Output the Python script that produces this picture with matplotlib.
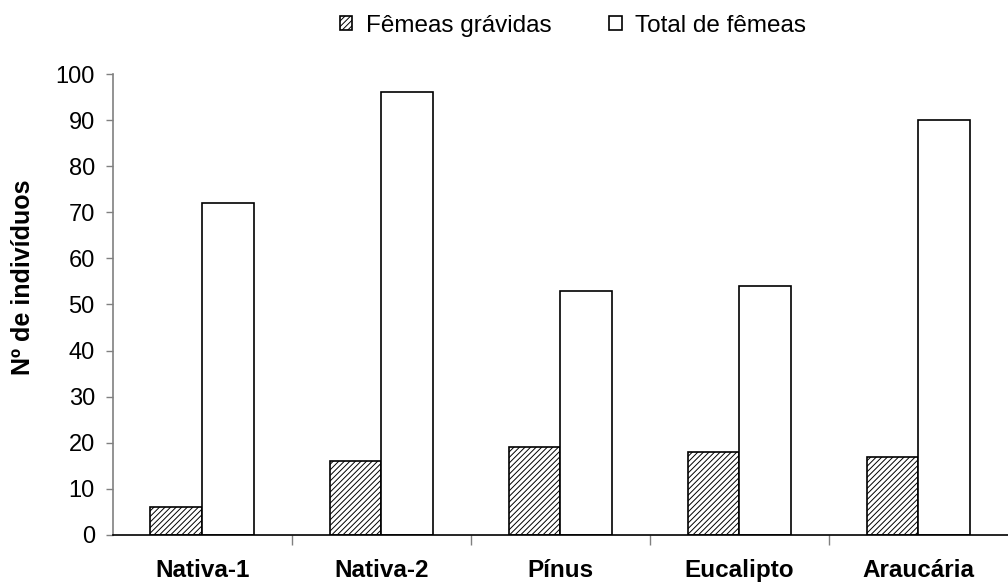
import numpy as np
import matplotlib.pyplot as plt

plt.rcParams['font.family'] = ['Liberation Sans', 'DejaVu Sans']
plt.rcParams['hatch.linewidth'] = 0.7

# Fêmeas grávidas e total de fêmeas por área
areas = ['Nativa-1', 'Nativa-2', 'Pínus', 'Eucalipto', 'Araucária']
gravidas = [6, 16, 19, 18, 17]
total = [72, 96, 53, 54, 90]

fig = plt.figure(figsize=(10.08, 5.85), dpi=100)
ax = fig.add_axes([0.112, 0.0855, 0.888, 0.788])

x = np.arange(len(areas))
w = 0.29
ax.bar(x - w / 2, gravidas, w, facecolor='white', edgecolor='black', hatch='//////',
       linewidth=1.2, label='Fêmeas grávidas')
ax.bar(x + w / 2, total, w, facecolor='white', edgecolor='black',
       linewidth=1.2, label='Total de fêmeas')

ax.set_xlim(-0.5, len(areas) - 0.5)
ax.set_ylim(0, 100)
ax.set_yticks(np.arange(0, 101, 10))
ax.tick_params(axis='y', labelsize=17, length=5, width=1, color='#808080', pad=8)

ax.set_xticks(x)
ax.set_xticklabels(areas, fontsize=17.5, fontweight='bold')
ax.set_xticks(np.arange(0.5, len(areas) - 0.5, 1), minor=True)
ax.tick_params(axis='x', which='major', length=0, pad=17)
ax.tick_params(axis='x', which='minor', length=7, width=1, color='#808080')

for s in ['top', 'right']:
    ax.spines[s].set_visible(False)
ax.spines['left'].set_color('#808080')
ax.spines['left'].set_linewidth(1.2)
ax.spines['bottom'].set_color('black')
ax.spines['bottom'].set_linewidth(1.2)

ax.set_ylabel('Nº de indivíduos', fontsize=18, fontweight='bold')
ax.yaxis.set_label_coords(-0.087, 0.56)

ax.legend(loc='center', bbox_to_anchor=(0.514, 1.105), ncol=2, frameon=False,
          fontsize=17.5, handlelength=0.5, handleheight=0.5, columnspacing=2.4,
          handletextpad=0.55)

fig.savefig('out.png', dpi=100)
